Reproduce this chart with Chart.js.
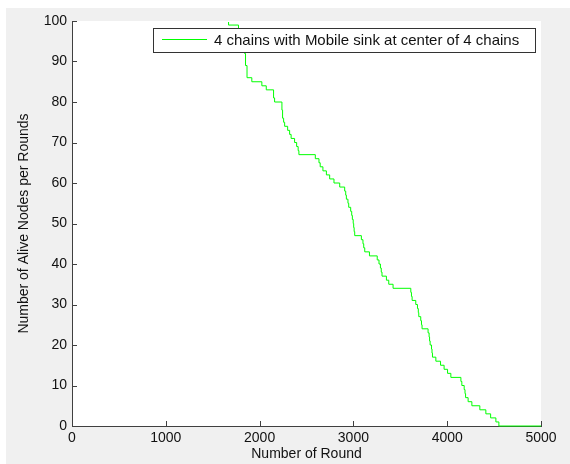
<!DOCTYPE html>
<html>
<head>
<meta charset="utf-8">
<script src="https://cdn.jsdelivr.net/npm/chart.js@4"></script>
<style>
  html, body { margin: 0; padding: 0; background: #fff; }
  canvas { display: block; }
</style>
</head>
<body>
<canvas id="AliveChart" width="570" height="464"></canvas>
<script>
// ================= Data =================
// round at which the count drops, and the count of alive nodes after it
const rounds = [0, 1669, 1775, 1797, 1818, 1839, 1850, 1866, 1917, 2024, 2071, 2149, 2160,
  2238, 2245, 2256, 2267, 2299, 2320, 2336, 2373, 2395, 2411, 2419,
  2594, 2633, 2646, 2675, 2712, 2747, 2793, 2854, 2907, 2918, 2925, 2942, 2950,
  2971, 2982, 2989, 2998, 3003, 3008, 3014, 3085, 3102, 3110, 3121, 3171,
  3254, 3273, 3288, 3297, 3305, 3352, 3377, 3423, 3612, 3619, 3626,
  3665, 3683, 3692, 3697, 3718, 3726, 3732, 3796, 3807, 3812, 3818,
  3833, 3838, 3843, 3879, 3929, 3967, 4004, 4039, 4146, 4156,
  4181, 4190, 4196, 4223, 4263, 4348, 4412, 4463, 4519, 4551, 5000];
const alive = [100, 99, 98, 96, 94, 92, 89, 86, 85, 84, 83, 81, 80,
  78, 76, 75, 74, 73, 72, 71, 70, 69, 68, 67,
  66, 65, 64, 63, 62, 61, 60, 59, 58, 57, 56, 55, 54,
  53, 52, 51, 50, 49, 48, 47, 46, 45, 44, 43, 42,
  41, 40, 39, 38, 37, 36, 35, 34, 33, 32, 31,
  30, 29, 28, 27, 26, 25, 24, 23, 22, 21, 20,
  19, 18, 17, 16, 15, 14, 13, 12, 11, 10,
  9, 8, 7, 6, 5, 4, 3, 2, 1, 0, 0];

const seriesLabel = '4 chains with Mobile sink at center of 4 chains';
const xTitle = 'Number of Round';
const yTitle = 'Number of Alive Nodes per Rounds';

const FONT = 'Arial, "Liberation Sans", sans-serif';
const AXIS_COLOR = '#404040';
const TEXT_COLOR = '#111';
const LINE_COLOR = '#00ff00';

// ================= Background + ticks + legend (matlab look) =================
const matlabLook = {
  id: 'matlabLook',
  beforeDraw(chart) {
    const { ctx, chartArea: a } = chart;
    ctx.save();
    ctx.fillStyle = '#fff';
    ctx.fillRect(0, 0, chart.width, chart.height);
    ctx.fillStyle = '#f0f0f0';
    ctx.fillRect(6, 8, chart.width - 6, chart.height - 8);
    ctx.fillStyle = '#fff';
    ctx.fillRect(a.left, a.top, a.right - a.left, a.bottom - a.top);
    ctx.restore();
  },
  afterDraw(chart) {
    const { ctx, chartArea: a } = chart;
    const xs = chart.scales.x, ys = chart.scales.y;
    ctx.save();
    // inward tick marks
    ctx.strokeStyle = AXIS_COLOR;
    ctx.lineWidth = 1;
    ctx.beginPath();
    xs.ticks.forEach(t => {
      const px = Math.round(xs.getPixelForValue(t.value)) + 0.5;
      ctx.moveTo(px, a.bottom);
      ctx.lineTo(px, a.bottom - 5);
    });
    ys.ticks.forEach(t => {
      const py = Math.round(ys.getPixelForValue(t.value)) + 0.5;
      ctx.moveTo(a.left, py);
      ctx.lineTo(a.left + 5, py);
    });
    ctx.stroke();

    // legend box, top right inside the axes
    const bx = a.left + 81, by = a.top + 7, bw = 382, bh = 24;
    ctx.fillStyle = '#fff';
    ctx.fillRect(bx, by, bw, bh);
    ctx.strokeStyle = '#333';
    ctx.strokeRect(bx + 0.5, by + 0.5, bw, bh);
    ctx.strokeStyle = LINE_COLOR;
    ctx.beginPath();
    ctx.moveTo(bx + 9, by + 11.5);
    ctx.lineTo(bx + 54, by + 11.5);
    ctx.stroke();
    ctx.fillStyle = TEXT_COLOR;
    ctx.font = '15px ' + FONT;
    ctx.textBaseline = 'middle';
    ctx.textAlign = 'left';
    ctx.fillText(seriesLabel, bx + 61, by + 12.5);
    ctx.restore();
  }
};

// ================= Chart =================
const ctx = document.getElementById('AliveChart').getContext('2d');

new Chart(ctx, {
  type: 'line',
  data: {
    datasets: [{
      label: seriesLabel,
      data: rounds.map((r, i) => ({ x: r, y: alive[i] })),
      borderColor: LINE_COLOR,
      borderWidth: 1,
      pointRadius: 0,
      stepped: 'before',
      fill: false,
      clip: { left: 0, top: -1, right: 0, bottom: 1 }
    }]
  },
  options: {
    responsive: false,
    animation: false,
    layout: { padding: { left: 0, top: 21, right: 29, bottom: 0 } },
    plugins: {
      legend: { display: false },
      tooltip: { enabled: false }
    },
    scales: {
      x: {
        type: 'linear',
        min: 0,
        max: 5000,
        afterFit: s => { s.height = 38; },
        grid: { display: true, drawOnChartArea: false, drawTicks: false },
        border: { display: true, color: AXIS_COLOR, width: 1 },
        ticks: {
          stepSize: 1000, padding: 4, color: TEXT_COLOR, maxRotation: 0,
          font: { family: FONT, size: 14 },
          callback: v => String(v)
        },
        title: { display: true, text: xTitle, color: TEXT_COLOR, font: { family: FONT, size: 14 }, padding: { top: 0, bottom: 1 } }
      },
      y: {
        min: 0,
        max: 100,
        afterFit: s => { s.width = 72; },
        grid: { display: true, drawOnChartArea: false, drawTicks: false },
        border: { display: true, color: AXIS_COLOR, width: 1 },
        ticks: {
          stepSize: 10, padding: 5, color: TEXT_COLOR,
          font: { family: FONT, size: 14 },
          callback: v => String(v)
        },
        title: { display: true, text: yTitle, color: TEXT_COLOR, font: { family: FONT, size: 14 }, padding: { top: 16, bottom: 0 } }
      }
    }
  },
  plugins: [matlabLook]
});
</script>
</body>
</html>
